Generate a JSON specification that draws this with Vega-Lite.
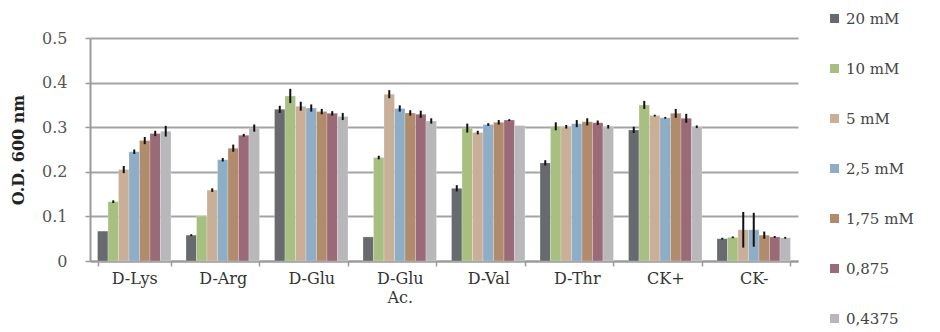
{
  "$schema": "https://vega.github.io/schema/vega-lite/v6.json",
  "width": 708,
  "height": 223,
  "autosize": {"type": "none"},
  "padding": {"left": 90, "top": 38, "right": 142, "bottom": 71},
  "background": "white",
  "config": {
    "view": {"stroke": null},
    "font": "DejaVu Serif",
    "axis": {"labelFont": "DejaVu Serif", "titleFont": "DejaVu Serif"},
    "legend": {"labelFont": "DejaVu Serif"}
  },
  "data": {
    "values": [
      {"group": "D-Lys", "conc": "20 mM", "value": 0.067, "err": 0.0},
      {"group": "D-Lys", "conc": "10 mM", "value": 0.133, "err": 0.003},
      {"group": "D-Lys", "conc": "5 mM", "value": 0.205, "err": 0.008},
      {"group": "D-Lys", "conc": "2,5 mM", "value": 0.245, "err": 0.005},
      {"group": "D-Lys", "conc": "1,75 mM", "value": 0.270, "err": 0.008},
      {"group": "D-Lys", "conc": "0,875", "value": 0.286, "err": 0.006},
      {"group": "D-Lys", "conc": "0,4375", "value": 0.291, "err": 0.012},

      {"group": "D-Arg", "conc": "20 mM", "value": 0.058, "err": 0.002},
      {"group": "D-Arg", "conc": "10 mM", "value": 0.101, "err": 0.0},
      {"group": "D-Arg", "conc": "5 mM", "value": 0.159, "err": 0.004},
      {"group": "D-Arg", "conc": "2,5 mM", "value": 0.227, "err": 0.004},
      {"group": "D-Arg", "conc": "1,75 mM", "value": 0.253, "err": 0.008},
      {"group": "D-Arg", "conc": "0,875", "value": 0.282, "err": 0.003},
      {"group": "D-Arg", "conc": "0,4375", "value": 0.298, "err": 0.008},

      {"group": "D-Glu", "conc": "20 mM", "value": 0.340, "err": 0.008},
      {"group": "D-Glu", "conc": "10 mM", "value": 0.370, "err": 0.016},
      {"group": "D-Glu", "conc": "5 mM", "value": 0.347, "err": 0.010},
      {"group": "D-Glu", "conc": "2,5 mM", "value": 0.343, "err": 0.008},
      {"group": "D-Glu", "conc": "1,75 mM", "value": 0.335, "err": 0.006},
      {"group": "D-Glu", "conc": "0,875", "value": 0.331, "err": 0.005},
      {"group": "D-Glu", "conc": "0,4375", "value": 0.324, "err": 0.008},

      {"group": "D-Glu Ac.", "conc": "20 mM", "value": 0.054, "err": 0.0},
      {"group": "D-Glu Ac.", "conc": "10 mM", "value": 0.232, "err": 0.004},
      {"group": "D-Glu Ac.", "conc": "5 mM", "value": 0.374, "err": 0.009},
      {"group": "D-Glu Ac.", "conc": "2,5 mM", "value": 0.342, "err": 0.007},
      {"group": "D-Glu Ac.", "conc": "1,75 mM", "value": 0.332, "err": 0.006},
      {"group": "D-Glu Ac.", "conc": "0,875", "value": 0.329, "err": 0.008},
      {"group": "D-Glu Ac.", "conc": "0,4375", "value": 0.314, "err": 0.006},

      {"group": "D-Val", "conc": "20 mM", "value": 0.163, "err": 0.007},
      {"group": "D-Val", "conc": "10 mM", "value": 0.298, "err": 0.010},
      {"group": "D-Val", "conc": "5 mM", "value": 0.288, "err": 0.004},
      {"group": "D-Val", "conc": "2,5 mM", "value": 0.306, "err": 0.003},
      {"group": "D-Val", "conc": "1,75 mM", "value": 0.311, "err": 0.005},
      {"group": "D-Val", "conc": "0,875", "value": 0.316, "err": 0.002},
      {"group": "D-Val", "conc": "0,4375", "value": 0.304, "err": 0.0},

      {"group": "D-Thr", "conc": "20 mM", "value": 0.220, "err": 0.006},
      {"group": "D-Thr", "conc": "10 mM", "value": 0.302, "err": 0.009},
      {"group": "D-Thr", "conc": "5 mM", "value": 0.301, "err": 0.004},
      {"group": "D-Thr", "conc": "2,5 mM", "value": 0.308, "err": 0.008},
      {"group": "D-Thr", "conc": "1,75 mM", "value": 0.312, "err": 0.008},
      {"group": "D-Thr", "conc": "0,875", "value": 0.310, "err": 0.005},
      {"group": "D-Thr", "conc": "0,4375", "value": 0.301, "err": 0.004},

      {"group": "CK+", "conc": "20 mM", "value": 0.294, "err": 0.007},
      {"group": "CK+", "conc": "10 mM", "value": 0.350, "err": 0.009},
      {"group": "CK+", "conc": "5 mM", "value": 0.326, "err": 0.002},
      {"group": "CK+", "conc": "2,5 mM", "value": 0.321, "err": 0.002},
      {"group": "CK+", "conc": "1,75 mM", "value": 0.331, "err": 0.010},
      {"group": "CK+", "conc": "0,875", "value": 0.320, "err": 0.010},
      {"group": "CK+", "conc": "0,4375", "value": 0.301, "err": 0.003},

      {"group": "CK-", "conc": "20 mM", "value": 0.050, "err": 0.002},
      {"group": "CK-", "conc": "10 mM", "value": 0.053, "err": 0.002},
      {"group": "CK-", "conc": "5 mM", "value": 0.070, "err": 0.040},
      {"group": "CK-", "conc": "2,5 mM", "value": 0.070, "err": 0.038},
      {"group": "CK-", "conc": "1,75 mM", "value": 0.058, "err": 0.008},
      {"group": "CK-", "conc": "0,875", "value": 0.054, "err": 0.002},
      {"group": "CK-", "conc": "0,4375", "value": 0.052, "err": 0.002}
    ]
  },
  "encoding": {
    "x": {
      "field": "group",
      "type": "nominal",
      "sort": null,
      "scale": {"paddingInner": 0.17, "paddingOuter": 0.085},
      "axis": {
        "title": null,
        "labelAngle": 0,
        "labelFontSize": 16,
        "labelColor": "#333333",
        "labelPadding": 4,
        "labelExpr": "split(datum.label, ' ')",
        "labelLineHeight": 19,
        "tickBand": "extent",
        "ticks": true,
        "tickSize": 5,
        "tickColor": "#9a9a9a",
        "tickWidth": 1.5,
        "domainColor": "#9a9a9a",
        "domainWidth": 2,
        "grid": false
      }
    },
    "xOffset": {
      "field": "conc",
      "type": "nominal",
      "sort": ["20 mM", "10 mM", "5 mM", "2,5 mM", "1,75 mM", "0,875", "0,4375"],
      "scale": {"paddingInner": 0, "paddingOuter": 0}
    }
  },
  "layer": [
    {
      "mark": {"type": "bar", "stroke": "#ffffff", "strokeWidth": 0.4, "strokeOpacity": 0.6},
      "encoding": {
        "y": {
          "field": "value",
          "type": "quantitative",
          "scale": {"domain": [0, 0.5]},
          "axis": {
            "title": "O.D. 600 nm",
            "titleFontSize": 16,
            "titleFontWeight": "bold",
            "titleColor": "#222222",
            "titlePadding": 15,
            "values": [0, 0.1, 0.2, 0.3, 0.4, 0.5],
            "labelExpr": "datum.value == 0 ? '0' : format(datum.value, '.1f')",
            "labelFontSize": 16,
            "labelColor": "#555555",
            "labelPadding": 18,
            "tickSize": 5,
            "tickColor": "#9a9a9a",
            "tickWidth": 1.5,
            "domainColor": "#9a9a9a",
            "domainWidth": 2,
            "grid": true,
            "gridColor": "#a3a3a3",
            "gridWidth": 2
          }
        },
        "color": {
          "field": "conc",
          "type": "nominal",
          "sort": ["20 mM", "10 mM", "5 mM", "2,5 mM", "1,75 mM", "0,875", "0,4375"],
          "scale": {
            "domain": ["20 mM", "10 mM", "5 mM", "2,5 mM", "1,75 mM", "0,875", "0,4375"],
            "range": ["#676b6f", "#a8bf82", "#c9af97", "#8eadc6", "#b08c6c", "#9b6a78", "#b8b8bb"]
          },
          "legend": {
            "title": null,
            "orient": "none",
            "legendX": 737,
            "legendY": -27,
            "symbolType": "square",
            "symbolSize": 81,
            "symbolStrokeWidth": 0,
            "labelFontSize": 15,
            "labelColor": "#444444",
            "labelOffset": 4,
            "rowPadding": 34
          }
        }
      }
    },
    {
      "mark": {"type": "rule", "color": "#111111", "strokeWidth": 2},
      "transform": [
        {"filter": "datum.err > 0"},
        {"calculate": "datum.value - datum.err", "as": "lo"},
        {"calculate": "datum.value + datum.err", "as": "hi"}
      ],
      "encoding": {
        "y": {"field": "lo", "type": "quantitative"},
        "y2": {"field": "hi"}
      }
    }
  ]
}
